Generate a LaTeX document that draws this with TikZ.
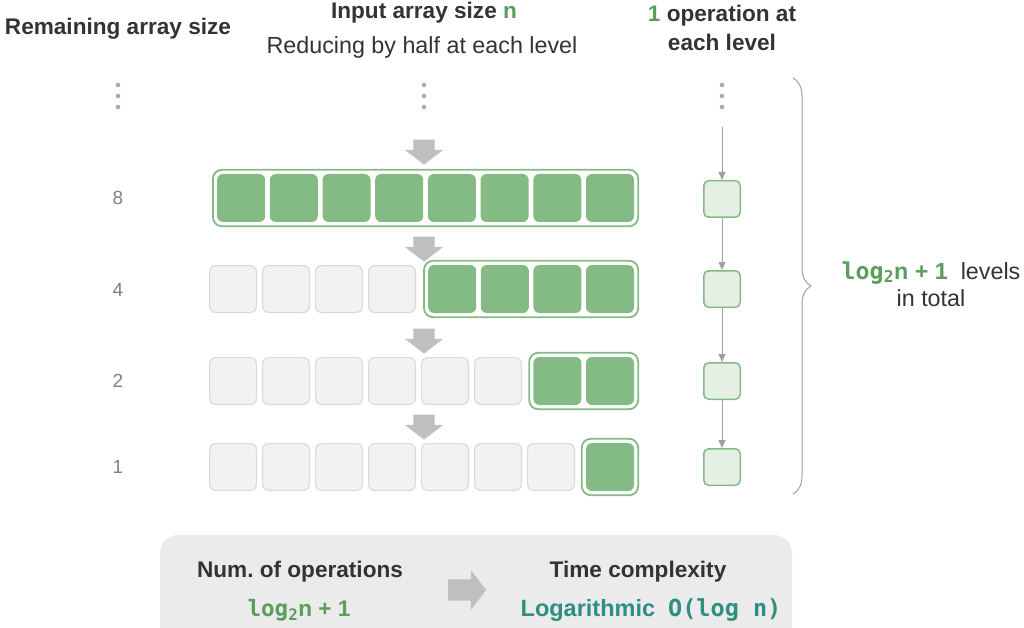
\documentclass[tikz,border=0pt]{standalone}
\usepackage{fontspec}
\setmainfont{Liberation Sans}
\newfontfamily\monofont{DejaVu Sans Mono}
\usetikzlibrary{positioning,arrows.meta,shapes.arrows,fit,decorations.pathreplacing}

\definecolor{cellgreen}{HTML}{84BA84}
\definecolor{lightgreen}{HTML}{E3F0E3}
\definecolor{cellgray}{HTML}{F2F2F2}
\definecolor{cellline}{HTML}{DADADA}
\definecolor{textdark}{HTML}{333333}
\definecolor{textgray}{HTML}{808080}
\definecolor{textgreen}{HTML}{5A9E5A}
\definecolor{textteal}{HTML}{2E8F80}
\definecolor{arrowgray}{HTML}{BFBFBF}
\definecolor{linegray}{HTML}{A0A0A0}
\definecolor{dotgray}{HTML}{AAAAAA}
\definecolor{panelgray}{HTML}{EBEBEB}

\begin{document}
\begin{tikzpicture}[x=1pt,y=-1pt,
    cellon/.style={rectangle, rounded corners=6pt, fill=cellgreen, minimum size=48pt, inner sep=0pt},
    celloff/.style={rectangle, rounded corners=6pt, fill=cellgray, draw=cellline, line width=1.2pt, minimum size=46.8pt, inner sep=0pt},
    frame/.style={rectangle, rounded corners=9pt, draw=cellgreen, line width=1.8pt, inner sep=4pt},
    opbox/.style={rectangle, rounded corners=5pt, fill=lightgreen, draw=cellgreen, line width=1.5pt, minimum size=36.5pt, inner sep=0pt},
    downarrow/.style={single arrow, shape border rotate=270, fill=arrowgray, minimum height=25pt,
      inner xsep=10.5pt, inner ysep=0pt, single arrow head extend=8.5pt, single arrow tip angle=105},
    rightarrow/.style={single arrow, fill=arrowgray, minimum height=38pt, inner xsep=0pt, inner ysep=10.5pt,
      single arrow head extend=9pt, single arrow tip angle=105},
    link/.style={-{Triangle[width=7pt,length=8pt]}, draw=linegray, line width=1pt},
    title/.style={font=\fontsize{22.6}{29}\selectfont\bfseries, text=textdark, align=center},
    plain/.style={font=\fontsize{23.3}{27}\selectfont, text=textdark, align=center},
    sizelabel/.style={font=\fontsize{19}{22}\selectfont, text=textgray}]

    \useasboundingbox (0,0) rectangle (1024,628);

    % Headings
    \node[title] (hsize) at (118,29) {Remaining array size};
    \node[title] (hinput) at (424,13) {Input array size \textcolor{textgreen}{n}};
    \node[plain] (hhalf) at (422,47) {Reducing by half at each level};
    \node[title] (hop) at (722,28) {\textcolor{textgreen}{1} operation at\\each level};

    % Dots
    \foreach \x in {118,424,722}
      \foreach \y in {85,96,107}
        \fill[dotgray] (\x,\y) circle (2.3pt);

    % Row labels
    \node[sizelabel] (s8) at (118,198) {8};
    \node[sizelabel] (s4) at (118,290) {4};
    \node[sizelabel] (s2) at (118,381) {2};
    \node[sizelabel] (s1) at (118,467) {1};

    % Row 1: 8 remaining
    \foreach \j in {1,...,8}
      \node[cellon] (a\j) at ({610-52.7*(8-\j)},198) {};
    \node[frame, fit=(a1)(a8)] (fa) {};

    % Row 2: 4 remaining
    \foreach \k in {1,...,4}
      \node[celloff] (bo\k) at ({233+53*(\k-1)},289) {};
    \foreach \j in {1,...,4}
      \node[cellon] (b\j) at ({610-52.6*(4-\j)},289) {};
    \node[frame, fit=(b1)(b4)] (fb) {};

    % Row 3: 2 remaining
    \foreach \k in {1,...,6}
      \node[celloff] (co\k) at ({233+53*(\k-1)},381) {};
    \foreach \j in {1,2}
      \node[cellon] (c\j) at ({610-52.6*(2-\j)},381) {};
    \node[frame, fit=(c1)(c2)] (fc) {};

    % Row 4: 1 remaining
    \foreach \k in {1,...,7}
      \node[celloff] (do\k) at ({233+53*(\k-1)},467) {};
    \node[cellon] (d1) at (610,467) {};
    \node[frame, fit=(d1)] (fd) {};

    % Halving arrows
    \node[downarrow] (ar1) at (424,148) {};
    \node[downarrow] (ar2) at (424,245) {};
    \node[downarrow] (ar3) at (424,337) {};
    \node[downarrow] (ar4) at (424,423) {};

    % One operation per level
    \coordinate (optop) at (722,127);
    \node[opbox] (op1) at (722,199) {};
    \node[opbox] (op2) at (722,289) {};
    \node[opbox] (op3) at (722,381) {};
    \node[opbox] (op4) at (722,467) {};
    \draw[link] (optop) -- (op1);
    \draw[link] (op1) -- (op2);
    \draw[link] (op2) -- (op3);
    \draw[link] (op3) -- (op4);

    % Brace and level count
    \coordinate (bracetop) at (793,78);
    \coordinate (bracebot) at (793,494);
    \draw[linegray, line width=1pt, decorate, decoration={brace, amplitude=18pt}] (bracetop) -- (bracebot);
    \node[plain] (levels) at (931,284)
      {\textcolor{textgreen}{\monofont\bfseries log\textsubscript{2}\rmfamily n + 1}\ \ levels\\in total};

    % Summary panel
    \fill[panelgray, rounded corners=18pt] (160,535) rectangle (792,680);
    \node[title] (numops) at (300,572) {Num.\ of operations};
    \node[title, text=textgreen] (numval) at (299,610) {{\monofont log\textsubscript{2}}n + 1};
    \node[rightarrow] (arsum) at (463,590) {};
    \node[title, text=textteal, font=\fontsize{23.5}{29}\selectfont\bfseries] (tcval) at (651,610) {Logarithmic\ \ {\monofont O(log n)}};
    \node[title] (tc) at (638,572) {Time complexity};
\end{tikzpicture}
\end{document}
